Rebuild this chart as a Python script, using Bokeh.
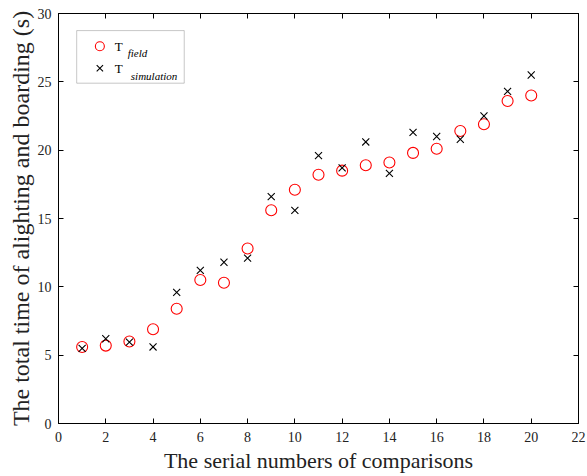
from bokeh.plotting import figure
from bokeh.models import Range1d, LinearAxis, FixedTicker, BoxAnnotation, Label
from bokeh.embed import file_html
from bokeh.resources import INLINE

comparisons = list(range(1, 21))
t_field = [5.6, 5.7, 6.0, 6.9, 8.4, 10.5, 10.3, 12.8, 15.6, 17.1,
           18.2, 18.5, 18.9, 19.1, 19.8, 20.1, 21.4, 21.9, 23.6, 24.0]
t_sim = [5.5, 6.2, 5.95, 5.6, 9.6, 11.2, 11.8, 12.1, 16.6, 15.6,
         19.6, 18.7, 20.6, 18.3, 21.3, 21.0, 20.8, 22.5, 24.3, 25.5]
x_ticks = list(range(0, 23, 2))
y_ticks = list(range(0, 31, 5))

FONT = "Liberation Serif"

p = figure(width=587, height=476, output_backend="svg", toolbar_location=None,
           x_range=Range1d(0, 22), y_range=Range1d(0, 30),
           min_border_left=58, min_border_right=9, min_border_top=13, min_border_bottom=53)
p.background_fill_color = "white"
p.border_fill_color = "white"
p.outline_line_color = "black"
p.grid.visible = False

p.xaxis.axis_label = "The serial numbers of comparisons"
p.yaxis.axis_label = "The total time of alighting and boarding (s)"

for ax in (p.xaxis, p.yaxis):
    ax.axis_label_text_font = FONT
    ax.axis_label_text_font_style = "normal"
    ax.major_label_text_font = FONT
    ax.major_label_text_font_size = "14px"
    ax.major_tick_in = 5
    ax.major_tick_out = 0
    ax.minor_tick_line_color = None
    ax.axis_line_color = "black"
    ax.major_tick_line_color = "black"
    ax.major_label_text_color = "#222222"
    ax.axis_label_text_color = "#222222"
p.xaxis.axis_label_text_font_size = "22px"
p.yaxis.axis_label_text_font_size = "24px"
p.xaxis.ticker = FixedTicker(ticks=x_ticks)
p.yaxis.ticker = FixedTicker(ticks=y_ticks)
p.xaxis.axis_label_standoff = 3
p.yaxis.axis_label_standoff = 1
p.xaxis.major_label_standoff = 8
p.yaxis.major_label_standoff = 7

top = LinearAxis(ticker=FixedTicker(ticks=x_ticks),
                 major_label_overrides={t: "" for t in x_ticks},
                 major_tick_in=5, major_tick_out=0, minor_tick_line_color=None)
right = LinearAxis(ticker=FixedTicker(ticks=y_ticks),
                   major_label_overrides={t: "" for t in y_ticks},
                   major_tick_in=5, major_tick_out=0, minor_tick_line_color=None)
p.add_layout(top, "above")
p.add_layout(right, "right")

# manual legend frame (drawn beneath the marks)
p.add_layout(BoxAnnotation(left=0.77, right=5.32, bottom=24.9, top=28.75,
                           fill_color="white", fill_alpha=1.0,
                           line_color="#444444", line_width=1, level="underlay"))

p.scatter(comparisons, t_field, marker="circle", size=11, fill_color=None,
          line_color="#ff0000", line_width=1.1)
p.scatter(comparisons, t_sim, marker="x", size=10, line_color="black", line_width=1.1)

legend_x = [1.75]
p.scatter(legend_x, [27.6], marker="circle", size=9, fill_color=None,
          line_color="#ff0000", line_width=1.1)
p.scatter(legend_x, [25.99], marker="x", size=9, line_color="black", line_width=1.1)
p.add_layout(Label(x=2.38, y=27.6, text="T", text_font=FONT, text_font_size="13px",
                   text_color="black", text_baseline="alphabetic"))
p.add_layout(Label(x=2.93, y=27.12, text="field", text_font=FONT, text_font_size="11px",
                   text_font_style="italic", text_color="black", text_baseline="alphabetic"))
p.add_layout(Label(x=2.38, y=25.95, text="T", text_font=FONT, text_font_size="13px",
                   text_color="black", text_baseline="alphabetic"))
p.add_layout(Label(x=3.06, y=25.46, text="simulation", text_font=FONT, text_font_size="11px",
                   text_font_style="italic", text_color="black", text_baseline="alphabetic"))

open("out.html", "w").write(file_html(p, INLINE))
